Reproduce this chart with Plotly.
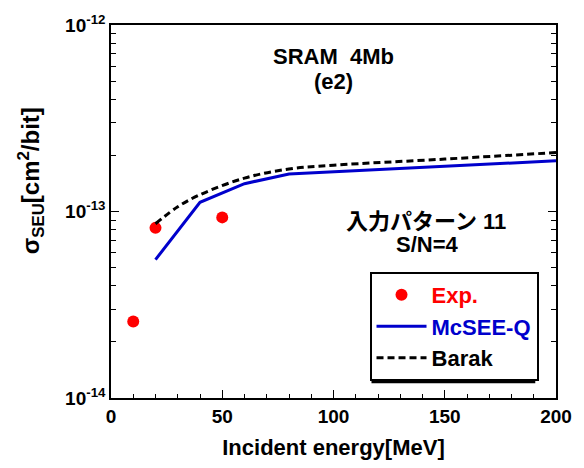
import plotly.graph_objects as go

exp_x = [10, 20, 50]
exp_y = [2.57e-14, 8.17e-14, 9.3e-14]

mcsee_x = [20, 40, 60, 80, 200]
mcsee_y = [5.52e-14, 1.12e-13, 1.41e-13, 1.59e-13, 1.87e-13]

barak_x = [20, 30, 40, 60, 80, 100, 150, 200]
barak_y = [8.6e-14, 1.06e-13, 1.23e-13, 1.51e-13, 1.69e-13, 1.77e-13, 1.91e-13, 2.07e-13]

x_ticks = [0, 50, 100, 150, 200]
y_major = [1e-14, 1e-13, 1e-12]
y_major_text = ["10<sup>-14</sup>", "10<sup>-13</sup>", "10<sup>-12</sup>"]
y_minor = [m * 10 ** e for e in (-14, -13) for m in range(2, 10)]

FONT = "Liberation Sans, Arial, sans-serif"

fig = go.Figure()
fig.add_trace(go.Scatter(x=exp_x, y=exp_y, mode="markers",
                         marker=dict(color="#ff0000", size=12),
                         name="<span style='color:#ff0000'>Exp.</span>"))
fig.add_trace(go.Scatter(x=mcsee_x, y=mcsee_y, mode="lines",
                         line=dict(color="#0000cc", width=3),
                         name="<span style='color:#0000cc'>McSEE-Q</span>"))
fig.add_trace(go.Scatter(x=barak_x, y=barak_y, mode="lines", line_shape="spline",
                         line=dict(color="#000000", width=3, dash="7px,4px"),
                         name="Barak"))


def px2paper(px, py):
    return (px - 111) / 451, (400 - py) / 380


lx, ly = px2paper(373, 327)
fig.update_layout(
    width=584, height=468,
    margin=dict(l=111, r=22, t=20, b=68),
    paper_bgcolor="white", plot_bgcolor="white",
    font=dict(family=FONT, size=16, color="black", weight="bold"),
    showlegend=True,
    legend=dict(x=lx, y=ly, xanchor="left", yanchor="middle",
                bgcolor="white", bordercolor="black", borderwidth=2,
                font=dict(size=22, family=FONT, weight="bold"), itemwidth=50,
                tracegroupgap=0),
    xaxis=dict(range=[0, 200], tickvals=x_ticks, ticktext=[str(v) for v in x_ticks],
               ticks="inside", ticklen=8, tickwidth=1, tickcolor="black",
               minor=dict(tickvals=list(range(10, 200, 10)), ticks="inside", ticklen=4, tickcolor="black"),
               showline=True, linecolor="black", linewidth=1.5, mirror=True,
               showgrid=False, zeroline=False,
               tickfont=dict(size=19, family=FONT, weight="bold"),
               title=dict(text="Incident energy[MeV]", font=dict(size=22, family=FONT, weight="bold"), standoff=14)),
    yaxis=dict(type="log", range=[-14, -12], tickvals=y_major, ticktext=y_major_text,
               ticks="inside", ticklen=8, tickwidth=1, tickcolor="black",
               minor=dict(tickvals=y_minor, ticks="inside", ticklen=5, tickcolor="black"),
               showline=True, linecolor="black", linewidth=1.5, mirror="allticks",
               showgrid=False, zeroline=False,
               tickfont=dict(size=19, family=FONT, weight="bold")),
)

# y-axis title (placed as in the reference, above the plot-area centre)
tx, ty = px2paper(30, 179)
fig.add_annotation(x=tx, y=ty, xref="paper", yref="paper", xanchor="center", yanchor="middle",
                   text="σ<sub>SEU</sub>[cm<sup>2</sup>/bit]", textangle=-90, showarrow=False,
                   font=dict(size=24, family=FONT, weight="bold"))

# legend shadow (legend box offset by 4 px)
sx0, sy0 = px2paper(375, 385)
sx1, sy1 = px2paper(541, 281)
fig.add_shape(type="rect", xref="paper", yref="paper",
              x0=sx0, x1=sx1, y0=sy0, y1=sy1,
              fillcolor="black", line=dict(width=0), layer="above")

annots = [
    (337, 52, "SRAM  4Mb"),
    (337, 78, "(e2)"),
    (430, 220, "入力パターン 11"),
    (432, 244, "S/N=4"),
]
for px, py, txt in annots:
    ax, ay = px2paper(px, py)
    fig.add_annotation(x=ax, y=ay, xref="paper", yref="paper",
                       xanchor="center", yanchor="middle",
                       text=txt, showarrow=False,
                       font=dict(size=22, family=FONT + ", Noto Sans CJK JP", weight="bold"))

fig.write_html("out.html")
